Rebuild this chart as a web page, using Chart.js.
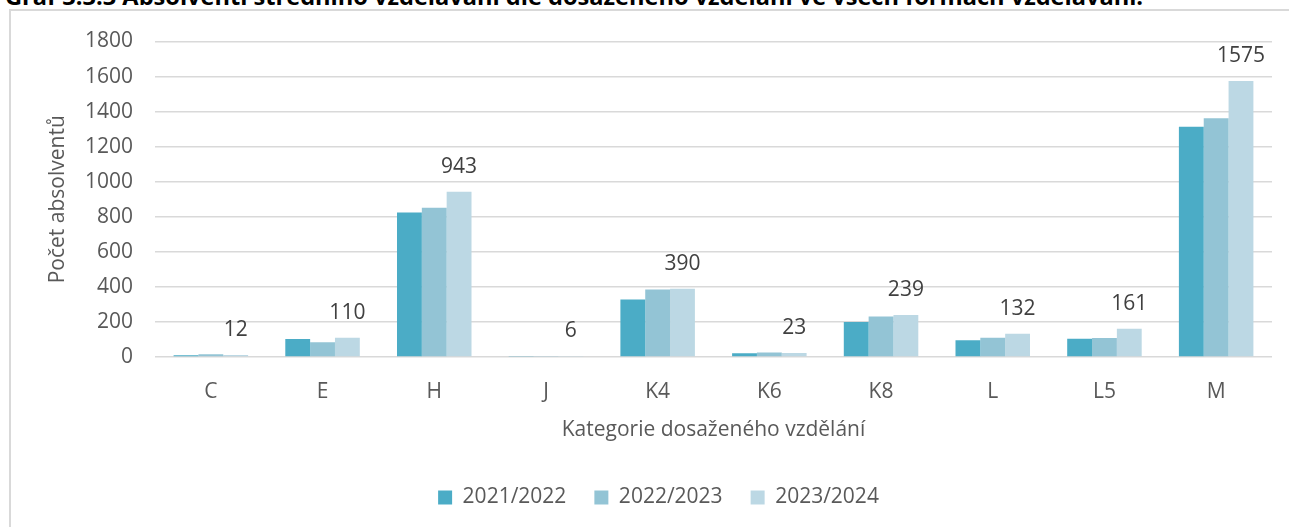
<!DOCTYPE html>
<html>
<head>
<meta charset="utf-8">
<script src="https://cdn.jsdelivr.net/npm/chart.js@4.4.1/dist/chart.umd.min.js"></script>
<style>
    html, body { margin: 0; padding: 0; background: #fff; overflow: hidden; width: 1289px; height: 527px; }
    #title { position: absolute; left: 5px; top: -16px; font: bold 23.6px 'Open Sans'; line-height: 24px; color: #000; white-space: nowrap; }
    #frame { position: absolute; left: 9px; top: 9px; width: 1330px; height: 560px; border-left: 2px solid #d9d9d9; border-top: 2px solid #d9d9d9; }
    #wrap { position: absolute; left: 10px; top: 9px; width: 1300px; height: 509px; }
</style>
</head>
<body>
<div id="title">Graf 3.3.3 Absolventi středního vzdělávání dle dosaženého vzdělání ve všech formách vzdělávání.</div>
<div id="frame"></div>
<div id="wrap"><canvas id="graduates-chart"></canvas></div>
<script>
// categories and values
const categories = ['C', 'E', 'H', 'J', 'K4', 'K6', 'K8', 'L', 'L5', 'M'];
const years = ['2021/2022', '2022/2023', '2023/2024'];
const values2122 = [10, 103, 824, 3, 328, 21, 199, 95, 104, 1314];
const values2223 = [16, 84, 852, 5, 385, 25, 231, 110, 108, 1362];
const values2324 = [12, 110, 943, 6, 390, 23, 239, 132, 161, 1575];
const colors = ['#4BACC6', '#93C4D5', '#BCD8E4'];

const FONT = "'Open Sans'";

// only the last year gets a value above its bar
const topLabels = {
    id: 'topLabels',
    afterDatasetsDraw(chart) {
        const ctx = chart.ctx;
        const meta = chart.getDatasetMeta(2);
        ctx.save();
        ctx.font = '21px ' + FONT;
        ctx.fillStyle = '#404040';
        ctx.textAlign = 'center';
        ctx.textBaseline = 'middle';
        meta.data.forEach((bar, i) => {
            ctx.fillText(values2324[i], bar.x, bar.y - 25);
        });
        ctx.restore();
    }
};

async function main() {
    await document.fonts.load('21px ' + FONT);
    await document.fonts.load('bold 23.6px ' + FONT);

    const canvas = document.querySelector('#graduates-chart');
    const series = [values2122, values2223, values2324];

    new Chart(canvas.getContext('2d'), {
        type: 'bar',
        data: {
            labels: categories,
            datasets: series.map((values, i) => ({
                label: years[i],
                data: values,
                backgroundColor: colors[i],
                borderWidth: 0,
                categoryPercentage: 0.667,
                barPercentage: 1
            }))
        },
        options: {
            responsive: true,
            maintainAspectRatio: false,
            animation: false,
            layout: { padding: { left: 35, top: 30, right: 38, bottom: 0 } },
            plugins: {
                tooltip: { enabled: false },
                legend: {
                    position: 'bottom',
                    labels: {
                        boxWidth: 14,
                        boxHeight: 14,
                        padding: 28,
                        color: '#595959',
                        font: { family: FONT, size: 21 }
                    }
                }
            },
            scales: {
                x: {
                    grid: { display: false },
                    border: { display: false },
                    ticks: { color: '#595959', padding: 14, font: { family: FONT, size: 21 } },
                    title: {
                        display: true,
                        text: 'Kategorie dosaženého vzdělání',
                        color: '#595959',
                        padding: { top: 0, bottom: 16 },
                        font: { family: FONT, size: 21 }
                    },
                    afterFit: scale => { scale.height = 102; }
                },
                y: {
                    min: 0,
                    max: 1800,
                    grid: { color: '#d9d9d9', lineWidth: 1.5, drawTicks: false },
                    border: { display: false },
                    ticks: {
                        stepSize: 200,
                        color: '#595959',
                        padding: 22,
                        font: { family: FONT, size: 21, lineHeight: 1 },
                        callback: value => String(value)
                    },
                    title: {
                        display: true,
                        text: 'Počet absolventů',
                        color: '#595959',
                        padding: 0,
                        font: { family: FONT, size: 21 }
                    },
                    afterFit: scale => { scale.width = 110; }
                }
            }
        },
        plugins: [topLabels]
    });
}

main();
</script>
</body>
</html>
